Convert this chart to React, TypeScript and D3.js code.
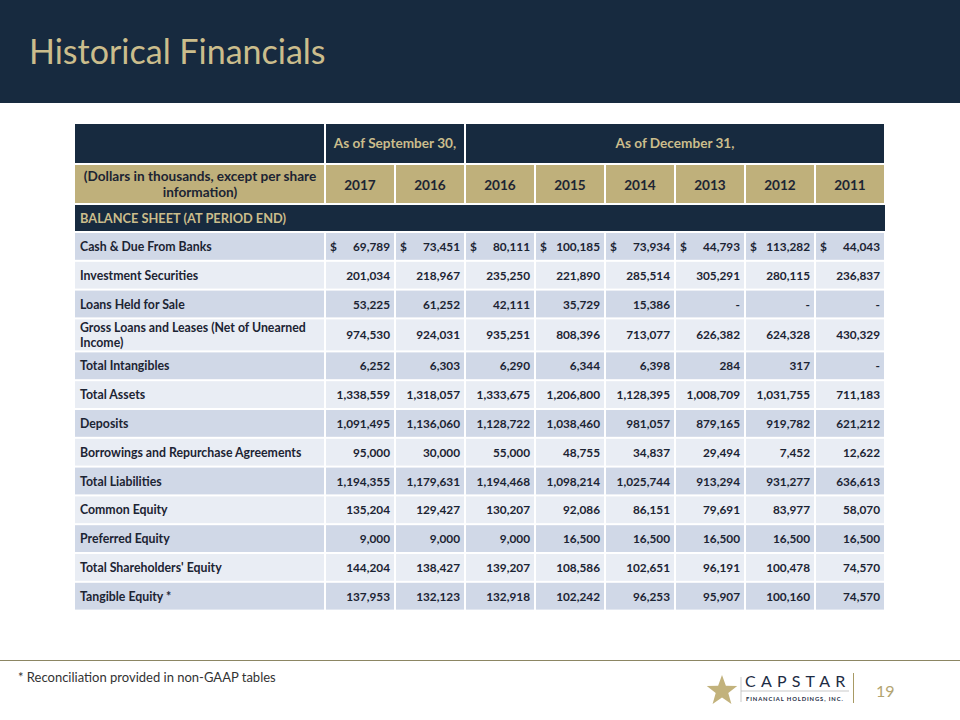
import React from "react";
import * as d3 from "d3";

const title = "Historical Financials";
const groupHeaders = [
  { label: "As of September 30,", from: 0, to: 2 },
  { label: "As of December 31,", from: 2, to: 8 },
];
const years = ["2017", "2016", "2016", "2015", "2014", "2013", "2012", "2011"];
const unitsLabel = ["(Dollars in thousands, except per share", "information)"];
const sectionLabel = "BALANCE SHEET (AT PERIOD END)";

const rowLabels: string[][] = [
  ["Cash & Due From Banks"],
  ["Investment Securities"],
  ["Loans Held for Sale"],
  ["Gross Loans and Leases (Net of Unearned", "Income)"],
  ["Total Intangibles"],
  ["Total Assets"],
  ["Deposits"],
  ["Borrowings and Repurchase Agreements"],
  ["Total Liabilities"],
  ["Common Equity"],
  ["Preferred Equity"],
  ["Total Shareholders' Equity"],
  ["Tangible Equity *"],
];

const cash = [69789, 73451, 80111, 100185, 73934, 44793, 113282, 44043];
const investmentSecurities = [201034, 218967, 235250, 221890, 285514, 305291, 280115, 236837];
const loansHeldForSale = [53225, 61252, 42111, 35729, 15386, null, null, null];
const grossLoans = [974530, 924031, 935251, 808396, 713077, 626382, 624328, 430329];
const totalIntangibles = [6252, 6303, 6290, 6344, 6398, 284, 317, null];
const totalAssets = [1338559, 1318057, 1333675, 1206800, 1128395, 1008709, 1031755, 711183];
const deposits = [1091495, 1136060, 1128722, 1038460, 981057, 879165, 919782, 621212];
const borrowings = [95000, 30000, 55000, 48755, 34837, 29494, 7452, 12622];
const totalLiabilities = [1194355, 1179631, 1194468, 1098214, 1025744, 913294, 931277, 636613];
const commonEquity = [135204, 129427, 130207, 92086, 86151, 79691, 83977, 58070];
const preferredEquity = [9000, 9000, 9000, 16500, 16500, 16500, 16500, 16500];
const totalShareholdersEquity = [144204, 138427, 139207, 108586, 102651, 96191, 100478, 74570];
const tangibleEquity = [137953, 132123, 132918, 102242, 96253, 95907, 100160, 74570];

const rowValues: (number | null)[][] = [
  cash, investmentSecurities, loansHeldForSale, grossLoans, totalIntangibles, totalAssets,
  deposits, borrowings, totalLiabilities, commonEquity, preferredEquity, totalShareholdersEquity, tangibleEquity,
];
const dollarRows = [0];

const footnote = "*  Reconciliation provided in non-GAAP tables";
const pageNumber = "19";

const NAVY = "#172a3f";
const GOLD = "#bfb07b";
const GOLD_TEXT = "#cbbd8c";
const ROW_DARK = "#d0d8e7";
const ROW_LIGHT = "#e9edf4";
const TEXT = "#1c2433";
const FONT = "Lato, 'Open Sans', sans-serif";
const LABEL_FS = 12.3;
const NUM_FS = 11.8;
const HEAD_FS = 13.6;

export default function App() {
  const fmt = d3.format(",");
  const left = 75;
  const labelRight = 325;
  const x = d3.scaleLinear().domain([0, years.length]).range([labelRight, 885]);
  const colW = x(1) - x(0);

  const h1Top = 124, h1H = 40;
  const h2Top = 164, h2H = 40;
  const secTop = 204, secH = 28;
  const dataTop = 232;
  const heights = rowLabels.map((l) => (l.length > 1 ? 33 : 28.8));
  const tops = [dataTop, ...Array.from(d3.cumsum(heights)).map((c) => dataTop + c)];

  const g = 1; // half gap
  const star = d3.range(10).map((i) => {
    const r = i % 2 === 0 ? 16 : 6.6;
    const a = -Math.PI / 2 + (i * Math.PI) / 5;
    return [722 + r * Math.cos(a), 691 + r * Math.sin(a)] as [number, number];
  });
  const starPath = d3.line()(star) + "Z";

  return (
    <svg width={960} height={720} style={{ position: "absolute", left: 0, top: 0, background: "#fff" }} fontFamily={FONT}>
      <rect x={0} y={0} width={960} height={720} fill="#fff" />
      <rect x={0} y={0} width={960} height={103} fill={NAVY} />
      <text x={29} y={64} fontSize={34} fill={GOLD_TEXT} fontFamily={FONT}>{title}</text>

      {/* header row 1 */}
      <rect x={left} y={h1Top} width={labelRight - left - g} height={h1H - g} fill={NAVY} />
      {groupHeaders.map((gh, i) => (
        <g key={"gh" + i}>
          <rect x={x(gh.from) + g} y={h1Top} width={x(gh.to) - x(gh.from) - 2 * g} height={h1H - g} fill={NAVY} />
          <text x={(x(gh.from) + x(gh.to)) / 2} y={h1Top + h1H / 2 - 1} textAnchor="middle" dominantBaseline="central"
            fontSize={HEAD_FS} fontWeight={700} fill={GOLD_TEXT}>{gh.label}</text>
        </g>
      ))}

      {/* header row 2 */}
      <rect x={left} y={h2Top + g} width={labelRight - left - g} height={h2H - 2 * g} fill={GOLD} />
      <text x={(left + labelRight) / 2} textAnchor="middle" fontSize={HEAD_FS} fontWeight={700} fill={TEXT}>
        <tspan x={(left + labelRight) / 2} y={h2Top + 17}>{unitsLabel[0]}</tspan>
        <tspan x={(left + labelRight) / 2} y={h2Top + 33}>{unitsLabel[1]}</tspan>
      </text>
      {years.map((yr, i) => (
        <g key={"yr" + i}>
          <rect x={x(i) + g} y={h2Top + g} width={colW - 2 * g} height={h2H - 2 * g} fill={GOLD} />
          <text x={x(i) + colW / 2} y={h2Top + h2H / 2 + 1} textAnchor="middle" dominantBaseline="central"
            fontSize={HEAD_FS} fontWeight={700} fill={TEXT}>{yr}</text>
        </g>
      ))}

      {/* section row */}
      <rect x={left} y={secTop + g} width={885 - left} height={secH - 2 * g} fill={NAVY} />
      <text x={left + 5} y={secTop + secH / 2} dominantBaseline="central" fontSize={12.8} fontWeight={700} fill={GOLD_TEXT}>
        {sectionLabel}
      </text>

      {/* data rows */}
      {rowLabels.map((lab, r) => {
        const y0 = tops[r];
        const h = heights[r];
        const fill = r % 2 === 0 ? ROW_DARK : ROW_LIGHT;
        const cy = y0 + h / 2;
        return (
          <g key={"row" + r}>
            <rect x={left} y={y0 + g} width={labelRight - left - g} height={h - 2 * g} fill={fill} />
            {lab.length === 1 ? (
              <text x={left + 5} y={cy} dominantBaseline="central" fontSize={LABEL_FS} fontWeight={700} fill={TEXT}>{lab[0]}</text>
            ) : (
              <text fontSize={LABEL_FS} fontWeight={700} fill={TEXT}>
                <tspan x={left + 5} y={cy - 3}>{lab[0]}</tspan>
                <tspan x={left + 5} y={cy + 12}>{lab[1]}</tspan>
              </text>
            )}
            {rowValues[r].map((v, c) => (
              <g key={"c" + c}>
                <rect x={x(c) + g} y={y0 + g} width={colW - 2 * g} height={h - 2 * g} fill={fill} />
                {dollarRows.includes(r) && (
                  <text x={x(c) + 5} y={cy} dominantBaseline="central" fontSize={NUM_FS} fontWeight={700} fill={TEXT}>$</text>
                )}
                <text x={x(c + 1) - 5} y={cy} textAnchor="end" dominantBaseline="central" fontSize={NUM_FS} fontWeight={700}
                  fill={TEXT}>{v === null ? "-" : fmt(v)}</text>
              </g>
            ))}
          </g>
        );
      })}

      {/* footer */}
      <line x1={0} x2={960} y1={660.5} y2={660.5} stroke="#8c8663" strokeWidth={1.2} />
      <text x={18} y={682} fontSize={13} fill="#333" fontFamily={FONT}>{footnote}</text>

      {/* logo */}
      <path d={starPath} fill="#c2b27c" />
      <line x1={741} x2={741} y1={677} y2={702} stroke="#bbb" strokeWidth={0.8} />
      <text x={745} y={687} fontSize={16} letterSpacing={5.2} fill="#1d2c44" fontFamily={FONT}>CAPSTAR</text>
      <line x1={741} x2={849} y1={691} y2={691} stroke="#bbb" strokeWidth={0.8} />
      <text x={746} y={701} fontSize={5.8} fontWeight={700} letterSpacing={0.9} fill="#1d2c44" fontFamily={FONT}>
        FINANCIAL HOLDINGS, INC.
      </text>
      <line x1={853.5} x2={853.5} y1={673} y2={703} stroke="#a89a64" strokeWidth={1} />
      <text x={876} y={697} fontSize={16} fill="#b3a470" fontFamily={FONT}>{pageNumber}</text>
    </svg>
  );
}
